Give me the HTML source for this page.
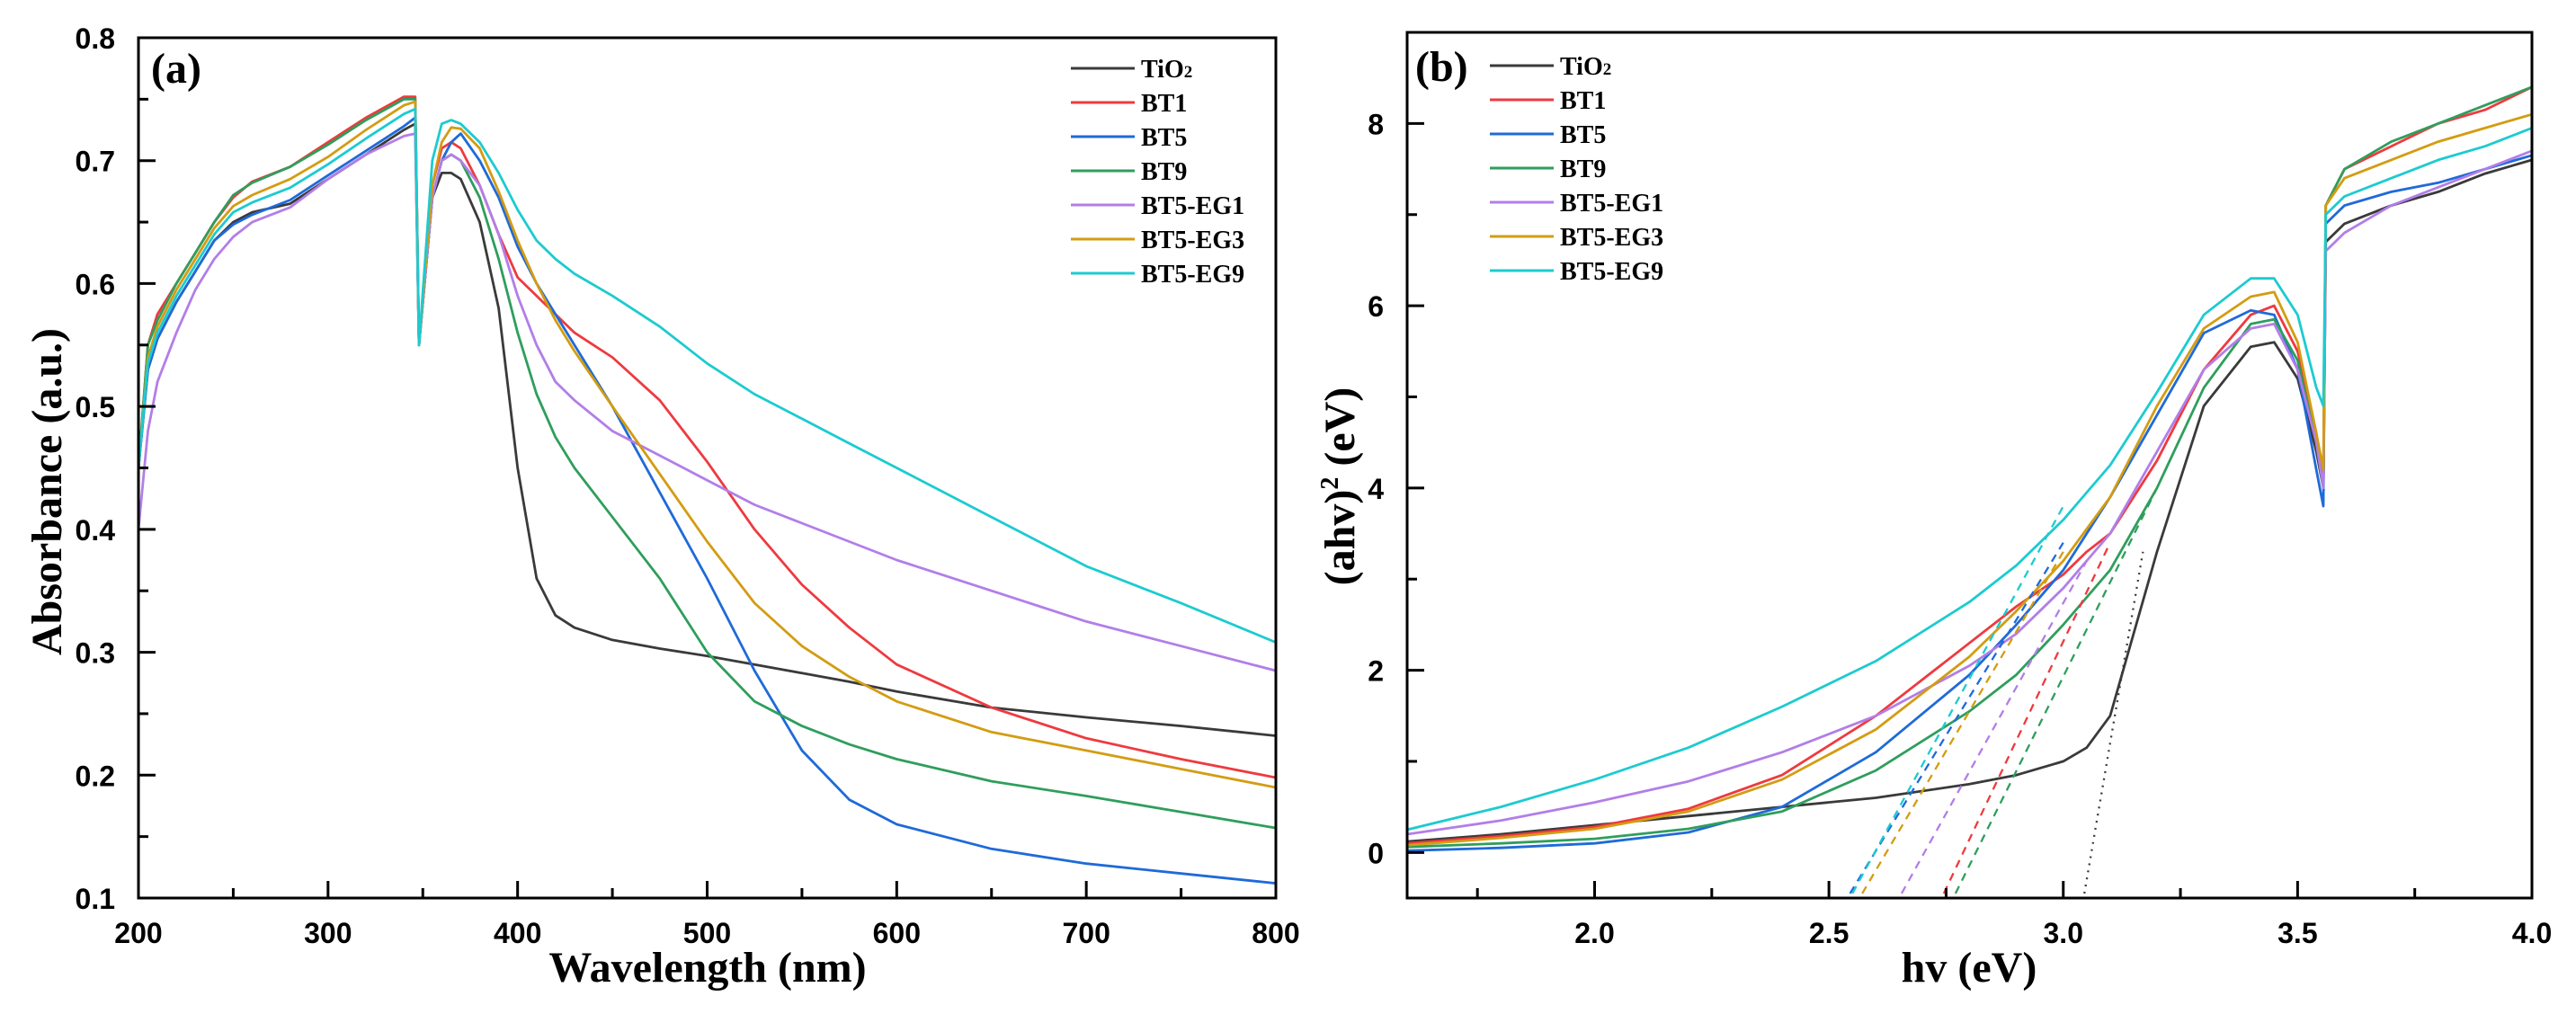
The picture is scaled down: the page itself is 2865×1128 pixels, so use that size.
<!DOCTYPE html>
<html><head><meta charset="utf-8"><style>
html,body{margin:0;padding:0;background:#fff;overflow:hidden;}
svg{display:block;}
.tick{font-family:"Liberation Sans",sans-serif;font-weight:bold;font-size:32px;fill:#000;}
.title{font-family:"Liberation Serif",serif;font-weight:bold;font-size:48px;fill:#000;}
.leg{font-family:"Liberation Serif",serif;font-weight:bold;font-size:28px;fill:#000;}
</style></head><body>
<svg id="chart" width="2865" height="1128" viewBox="0 0 2865 1128" xmlns="http://www.w3.org/2000/svg"></svg>
<script>
const seriesNames = ["TiO2","BT1","BT5","BT9","BT5-EG1","BT5-EG3","BT5-EG9"];
const seriesColors = ["#3a3a3a","#ee3a3f","#1f6ad8","#2f9e5c","#b27ee8","#d39c12","#1ccbd0"];
const wlX = [200,205,210,220,230,240,250,260,280,300,320,340,346,348,355,360,365,370,380,390,400,410,420,430,450,475,500,525,550,575,600,650,700,750,800];
const absTiO2 = [0.45,0.53,0.555,0.585,0.61,0.635,0.65,0.658,0.665,0.685,0.705,0.725,0.73,0.55,0.67,0.69,0.69,0.685,0.65,0.58,0.45,0.36,0.33,0.32,0.31,0.303,0.297,0.29,0.283,0.276,0.268,0.255,0.247,0.240,0.232];
const absBT1 = [0.45,0.55,0.575,0.60,0.625,0.65,0.67,0.683,0.695,0.715,0.735,0.752,0.752,0.55,0.68,0.71,0.715,0.71,0.68,0.64,0.605,0.59,0.575,0.56,0.54,0.505,0.455,0.40,0.355,0.32,0.29,0.255,0.23,0.213,0.198];
const absBT5 = [0.45,0.53,0.555,0.585,0.61,0.635,0.648,0.656,0.668,0.688,0.708,0.728,0.735,0.55,0.67,0.70,0.715,0.722,0.70,0.67,0.63,0.60,0.575,0.55,0.50,0.43,0.36,0.285,0.22,0.18,0.16,0.14,0.128,0.12,0.112];
const absBT9 = [0.45,0.55,0.57,0.60,0.625,0.65,0.672,0.682,0.695,0.713,0.733,0.75,0.75,0.55,0.67,0.70,0.705,0.70,0.67,0.62,0.56,0.51,0.475,0.45,0.41,0.36,0.30,0.26,0.24,0.225,0.213,0.195,0.183,0.17,0.157];
const absEG1 = [0.40,0.48,0.52,0.56,0.595,0.62,0.638,0.65,0.662,0.685,0.705,0.72,0.722,0.55,0.67,0.70,0.705,0.70,0.68,0.64,0.59,0.55,0.52,0.505,0.48,0.46,0.44,0.42,0.405,0.39,0.375,0.35,0.325,0.305,0.285];
const absEG3 = [0.45,0.54,0.565,0.595,0.62,0.645,0.663,0.672,0.685,0.703,0.725,0.745,0.748,0.55,0.68,0.715,0.727,0.726,0.71,0.675,0.635,0.60,0.57,0.545,0.50,0.445,0.39,0.34,0.305,0.28,0.26,0.235,0.22,0.205,0.19];
const absEG9 = [0.45,0.535,0.56,0.59,0.615,0.64,0.658,0.666,0.678,0.697,0.718,0.738,0.742,0.55,0.70,0.73,0.733,0.73,0.715,0.69,0.66,0.635,0.62,0.608,0.59,0.565,0.535,0.51,0.49,0.47,0.45,0.41,0.37,0.34,0.308];
const hvX = [1.6,1.8,2.0,2.2,2.4,2.6,2.8,2.9,3.0,3.05,3.1,3.2,3.3,3.4,3.45,3.5,3.54,3.555,3.56,3.6,3.7,3.8,3.9,4.0];
const tcTiO2 = [0.12,0.2,0.3,0.4,0.5,0.6,0.75,0.85,1.0,1.15,1.5,3.3,4.9,5.55,5.6,5.2,4.4,4.0,6.7,6.9,7.1,7.25,7.45,7.6];
const tcBT1 = [0.1,0.18,0.28,0.48,0.85,1.5,2.3,2.7,3.05,3.3,3.5,4.3,5.3,5.9,6.0,5.5,4.6,4.0,7.1,7.5,7.75,8.0,8.15,8.4];
const tcBT5 = [0.02,0.05,0.1,0.22,0.5,1.1,1.95,2.5,3.1,3.5,3.9,4.8,5.7,5.95,5.9,5.3,4.2,3.8,6.9,7.1,7.25,7.35,7.5,7.65];
const tcBT9 = [0.06,0.1,0.15,0.26,0.45,0.9,1.55,1.95,2.5,2.8,3.1,4.0,5.1,5.8,5.85,5.4,4.5,4.0,7.1,7.5,7.8,8.0,8.2,8.4];
const tcEG1 = [0.2,0.35,0.55,0.78,1.1,1.5,2.05,2.4,2.9,3.2,3.5,4.4,5.3,5.75,5.8,5.3,4.5,4.0,6.6,6.8,7.1,7.3,7.5,7.7];
const tcEG3 = [0.08,0.16,0.26,0.45,0.8,1.35,2.15,2.65,3.2,3.55,3.9,4.9,5.75,6.1,6.15,5.6,4.6,4.2,7.1,7.4,7.6,7.8,7.95,8.1];
const tcEG9 = [0.25,0.5,0.8,1.15,1.6,2.1,2.75,3.15,3.65,3.95,4.25,5.05,5.9,6.3,6.3,5.9,5.1,4.9,7.0,7.2,7.4,7.6,7.75,7.95];
const tanStartX = [3.045,2.745,2.545,2.77,2.655,2.571,2.55];
const tanEndX = [3.17,3.1,3.0,3.2,3.05,3.0,3.0];
const tanEndY = [3.3,3.4,3.4,4.0,3.2,3.3,3.8];
const tanStartY = -0.45;
const ticksA_X = [200,300,400,500,600,700,800];
const ticksA_Y = [0.1,0.2,0.3,0.4,0.5,0.6,0.7,0.8];
const ticksB_X = [2.0,2.5,3.0,3.5,4.0];
const ticksB_Y = [0,2,4,6,8];

const absData = [absTiO2,absBT1,absBT5,absBT9,absEG1,absEG3,absEG9];
const tcData = [tcTiO2,tcBT1,tcBT5,tcBT9,tcEG1,tcEG3,tcEG9];
const NS='http://www.w3.org/2000/svg';
const svg=document.getElementById('chart');
function mk(tag,attrs,parent){const e=document.createElementNS(NS,tag);for(const k in attrs)e.setAttribute(k,attrs[k]);(parent||svg).appendChild(e);return e;}

function panel(cfg){
  const g=mk('g',{});
  
  
  const sx=v=>cfg.L+(v-cfg.x0)/(cfg.x1-cfg.x0)*(cfg.R-cfg.L);
  const sy=v=>cfg.B-(v-cfg.y0)/(cfg.y1-cfg.y0)*(cfg.B-cfg.T);
  const cp=mk('clipPath',{id:cfg.clip},g);mk('rect',{x:cfg.L,y:cfg.T,width:cfg.R-cfg.L,height:cfg.B-cfg.T},cp);
  const sg=mk('g',{'clip-path':'url(#'+cfg.clip+')'},g);
  cfg.data.forEach((arr,i)=>{
    const d=arr.map((v,j)=>(j?'L':'M')+sx(cfg.xs[j]).toFixed(1)+','+sy(v).toFixed(1)).join(' ');
    const p=mk('path',{d:d,fill:'none',stroke:seriesColors[i],'stroke-width':2.8,'stroke-linejoin':'round'},sg);
    
    
  });
  if(cfg.tangents){
    tanStartX.forEach((x,i)=>{
      const l=mk('line',{x1:sx(x),y1:sy(tanStartY),x2:sx(tanEndX[i]),y2:sy(tanEndY[i]),stroke:seriesColors[i],'stroke-width':2.3,'stroke-dasharray':i===0?'2,6':'9,7'},sg);
      
      
    });
  }
  const fr=mk('rect',{x:cfg.L,y:cfg.T,width:cfg.R-cfg.L,height:cfg.B-cfg.T,fill:'none',stroke:'#000','stroke-width':3},g);
  
  
  const xg=mk('g',{},g);
  
  
  cfg.xt.forEach((v,i)=>{
    mk('line',{x1:sx(v),y1:cfg.B,x2:sx(v),y2:cfg.B-19,stroke:'#000','stroke-width':3},xg);
    const t=mk('text',{x:sx(v),y:cfg.B+50,'text-anchor':'middle',class:'tick'},xg);t.textContent=cfg.xfmt(v);
    
    
    if(i<cfg.xt.length-1){const m=(v+cfg.xt[i+1])/2;mk('line',{x1:sx(m),y1:cfg.B,x2:sx(m),y2:cfg.B-11,stroke:'#000','stroke-width':3},xg);}
  });
  if(cfg.xminorLead!==undefined){mk('line',{x1:sx(cfg.xminorLead),y1:cfg.B,x2:sx(cfg.xminorLead),y2:cfg.B-11,stroke:'#000','stroke-width':3},xg);}
  const yg=mk('g',{},g);
  
  
  cfg.yt.forEach((v,i)=>{
    mk('line',{x1:cfg.L,y1:sy(v),x2:cfg.L+19,y2:sy(v),stroke:'#000','stroke-width':3},yg);
    const t=mk('text',{x:cfg.L-26,y:sy(v)+12,'text-anchor':'end',class:'tick'},yg);t.textContent=cfg.yfmt(v);
    
    
    if(i<cfg.yt.length-1){const m=(v+cfg.yt[i+1])/2;mk('line',{x1:cfg.L,y1:sy(m),x2:cfg.L+11,y2:sy(m),stroke:'#000','stroke-width':3},yg);}
  });
  const lg=mk('g',{},g);
  
  
  seriesNames.forEach((n,i)=>{
    const y=cfg.legY+i*38;
    mk('line',{x1:cfg.legX,y1:y,x2:cfg.legX+71,y2:y,stroke:seriesColors[i],'stroke-width':3},lg);
    const t=mk('text',{x:cfg.legX+78,y:y+10,class:'leg'},lg);
    if(n==='TiO2'){t.textContent='TiO';const s=mk('tspan',{'font-size':'19'},t);s.textContent='2';}else t.textContent=n;
    
    
  });
  const pl=mk('text',{x:cfg.labX,y:cfg.labY,class:'title','font-size':'40'},g);pl.textContent=cfg.label;
  
  
}
panel({name:'panel-a-absorbance',clip:'clipA',L:154,R:1419,T:42,B:999,x0:200,x1:800,y0:0.1,y1:0.8,xs:wlX,data:absData,
  xt:ticksA_X,yt:ticksA_Y,xfmt:v=>String(v),yfmt:v=>v.toFixed(1),legX:1191,legY:76,label:'(a)',labX:168,labY:92});
panel({name:'panel-b-tauc',clip:'clipB',L:1565,R:2816,T:36,B:999,x0:1.6,x1:4.0,y0:-0.5,y1:9.0,xs:hvX,data:tcData,
  xt:ticksB_X,yt:ticksB_Y,xfmt:v=>v.toFixed(1),yfmt:v=>String(v),legX:1657,legY:73,label:'(b)',labX:1574,labY:90,tangents:true,xminorLead:1.75});
function title(txt,x,y,rot,name,fs){const t=mk('text',{x:x,y:y,'text-anchor':'middle',class:'title','font-size':fs,transform:rot?'rotate(-90 '+x+' '+y+')':''});t.textContent=txt;
  
  return t;}
title('Wavelength (nm)',787,1092,false,'x-axis-title-a',48);
title('Absorbance (a.u.)',68,547,true,'y-axis-title-a',47);
title('hv (eV)',2190,1092,false,'x-axis-title-b',48);
const yb=title('(ahv)',1506,541,true,'y-axis-title-b',46);
const sup=mk('tspan',{'font-size':'28',dy:'-18'},yb);sup.textContent='2';
const rest=mk('tspan',{dy:'18'},yb);rest.textContent=' (eV)';
</script>
</body></html>
